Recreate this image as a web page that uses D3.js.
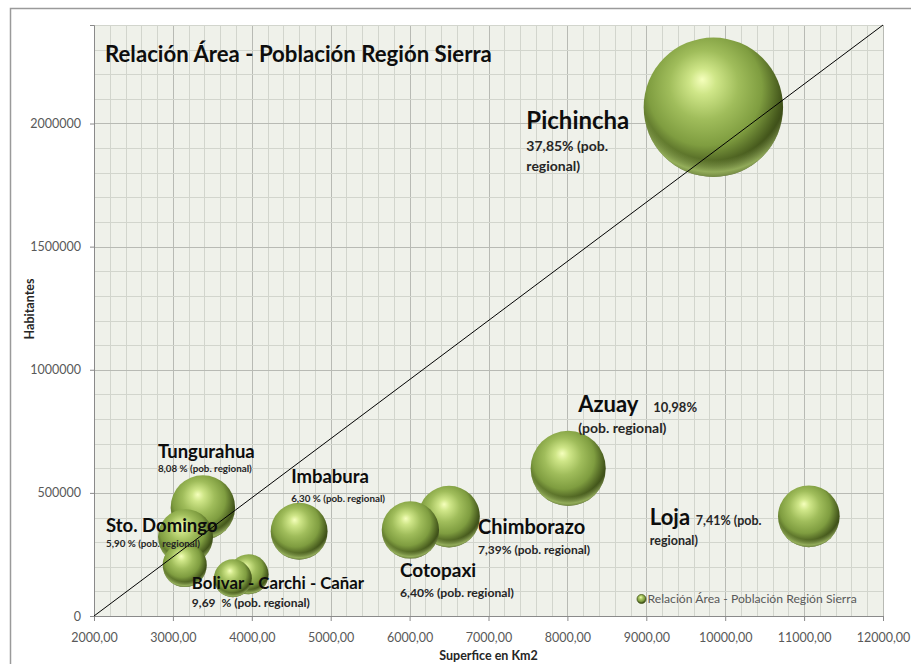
<!DOCTYPE html>
<html>
<head>
<meta charset="utf-8">
<script src="https://cdn.jsdelivr.net/npm/d3@7"></script>
<style>
body { margin: 0; background: #fff; }
svg { font-family: Lato, "Open Sans", sans-serif; }
</style>
</head>
<body>
<script>
// datos: provincias de la sierra, superficie (km2) y habitantes
var provincias = ["Pichincha", "Azuay", "Loja", "Tungurahua", "Sto. Domingo", "Imbabura",
                  "Cotopaxi", "Chimborazo", "Cañar", "Carchi", "Bolívar"];
var superficie = [9850, 8010, 11060, 3380, 3160, 4600, 6010, 6500, 3150, 3760, 3960];
var habitantes = [2066000, 599546, 404835, 441034, 322000, 344044, 349540, 403632, 206981, 152939, 169370];

var xTicks = [2000, 3000, 4000, 5000, 6000, 7000, 8000, 9000, 10000, 11000, 12000];
var yTicks = [0, 500000, 1000000, 1500000, 2000000];

var titulo = "Relación Área - Población Región Sierra";
var serie = "Relación Área - Población Región Sierra";

// rotulos (texto) y bola a la que se anclan
var rotuloTexto = [
  ["Pichincha", "37,85% (pob.", "regional)"],
  ["Azuay", "10,98%", "(pob. regional)"],
  ["Loja", "7,41% (pob.", "regional)"],
  ["Tungurahua", "8,08 % (pob. regional)"],
  ["Sto. Domingo", "5,90 % (pob. regional)"],
  ["Imbabura", "6,30 % (pob. regional)"],
  ["Cotopaxi", "6,40% (pob. regional)"],
  ["Chimborazo", "7,39% (pob. regional)"],
  ["Bolivar - Carchi - Cañar", "9,69  % (pob. regional)"]
];
var rotuloAncla = ["Pichincha", "Azuay", "Loja", "Tungurahua", "Sto. Domingo", "Imbabura",
                   "Cotopaxi", "Chimborazo", "Carchi"];
// desplazamiento de cada linea respecto al centro de la bola: [dx, dy, tamaño]
var rotuloPos = [
  [[-187, 22, 24], [-187, 43.5, 14], [-187, 63.5, 14]],
  [[10, -56.5, 22], [85, -56.5, 13], [10, -35, 14]],
  [[-159, 9, 22], [-113, 9, 12.5], [-159, 29, 12.5]],
  [[-45, -49.5, 18.5], [-45, -35, 9.8]],
  [[-79.5, -4.3, 18.5], [-79.5, 10.7, 9.8]],
  [[-8, -48, 18.5], [-8, -29, 9.8]],
  [[-10.4, 47, 19], [-10.4, 67, 12.2]],
  [[29, 17, 20], [29, 37, 12]],
  [[-41, 10.7, 16.8], [-41, 29, 12]]
];

var W = 911, H = 664;
var svg = d3.select("body").append("svg").attr("width", W).attr("height", H);

var x = d3.scaleLinear().domain([2000, 12000]).range([94, 883]);
var y = d3.scaleLinear().domain([0, 2400000]).range([616, 25]);
var r = d3.scaleSqrt().domain([0, d3.max(habitantes)]).range([0, 69.7]);

var defs = svg.append("defs");
var g1 = defs.append("radialGradient").attr("id", "esfera")
  .attr("cx", 0.45).attr("cy", 0.4).attr("r", 0.62).attr("fx", 0.42).attr("fy", 0.3);
[[0, "#f5ffbc"], [0.15, "#cfe688"], [0.4, "#a0bd5b"], [0.66, "#7f9d40"], [0.87, "#45581c"], [1, "#2b3610"]]
  .forEach(function(s){ g1.append("stop").attr("offset", s[0]).attr("stop-color", s[1]); });
var g2 = defs.append("radialGradient").attr("id", "borde")
  .attr("cx", 0.5).attr("cy", 0.35).attr("r", 0.66);
[[0, "#b9d777", 0], [0.8, "#b9d777", 0], [0.93, "#b9d777", 0.7], [1, "#a8c668", 0.5]]
  .forEach(function(s){ g2.append("stop").attr("offset", s[0]).attr("stop-color", s[1]).attr("stop-opacity", s[2]); });

// marco del grafico
svg.append("rect").attr("x", 10.5).attr("y", 8.5).attr("width", 1000).attr("height", 1000)
  .attr("fill", "#fff").attr("stroke", "#9a9a9a").attr("stroke-width", 1.5);

// area de trazado
svg.append("rect").attr("x", x(2000)).attr("y", y(2400000))
  .attr("width", x(12000) - x(2000)).attr("height", y(0) - y(2400000))
  .attr("fill", "#eff1ea");

var grid = svg.append("g");
grid.selectAll(".vmin").data(d3.range(2000, 12001, 200)).enter().append("line")
  .attr("x1", function(d){ return Math.round(x(d)) + 0.5; })
  .attr("x2", function(d){ return Math.round(x(d)) + 0.5; })
  .attr("y1", y(0)).attr("y2", y(2400000))
  .attr("stroke", function(d){ return d % 1000 === 0 ? "#b8bab4" : "#d2d5cd"; });
grid.selectAll(".hmin").data(d3.range(0, 2400001, 100000)).enter().append("line")
  .attr("y1", function(d){ return Math.round(y(d)) + 0.5; })
  .attr("y2", function(d){ return Math.round(y(d)) + 0.5; })
  .attr("x1", x(2000)).attr("x2", x(12000))
  .attr("stroke", function(d){ return d % 500000 === 0 ? "#b8bab4" : "#d2d5cd"; });

var coma = function(d){ return d3.format(".2f")(d).replace(".", ","); };

var ax = svg.append("g").attr("transform", "translate(0," + y(0) + ")")
  .call(d3.axisBottom(x).tickValues(xTicks).tickFormat(coma).tickSize(5).tickPadding(12));
var ay = svg.append("g").attr("transform", "translate(" + x(2000) + ",0)")
  .call(d3.axisLeft(y).tickValues(yTicks).tickFormat(d3.format("d")).tickSize(4).tickPadding(9));
[ax, ay].forEach(function(a){
  a.select(".domain").attr("stroke", "#8a8a8a");
  a.selectAll(".tick line").attr("stroke", "#8a8a8a");
  a.selectAll("text").attr("fill", "#595959").style("font-size", "12.5px").style("font-family", "Lato, sans-serif");
});

// bolas, de mayor a menor
var idx = d3.range(provincias.length).sort(function(a, b){ return habitantes[b] - habitantes[a]; });
var bolas = svg.append("g").selectAll("g").data(idx).enter().append("g")
  .attr("transform", function(i){ return "translate(" + x(superficie[i]) + "," + y(habitantes[i]) + ")"; });
bolas.append("circle").attr("r", function(i){ return r(habitantes[i]); }).attr("fill", "url(#esfera)");
bolas.append("circle").attr("r", function(i){ return r(habitantes[i]); }).attr("fill", "url(#borde)");

// linea diagonal
svg.append("line")
  .attr("x1", x(2000)).attr("y1", y(0)).attr("x2", x(12000)).attr("y2", y(2400000))
  .attr("stroke", "#000").attr("stroke-width", 1);

// rotulos
rotuloTexto.forEach(function(lineas, k){
  var i = provincias.indexOf(rotuloAncla[k]);
  var cx = x(superficie[i]), cy = y(habitantes[i]);
  lineas.forEach(function(t, j){
    var p = rotuloPos[k][j];
    svg.append("text").attr("x", cx + p[0]).attr("y", cy + p[1])
      .style("font-size", p[2] + "px").style("font-weight", "bold")
      .style("white-space", "pre")
      .attr("fill", j === 0 ? "#0d0d0d" : "#262626")
      .text(t);
  });
});

// titulo
svg.append("text").attr("x", 105).attr("y", 61.7)
  .style("font-size", "22.2px").style("font-weight", "bold").attr("fill", "#0d0d0d").text(titulo);

// titulos de ejes
svg.append("text").attr("x", (x(2000) + x(12000)) / 2).attr("y", 660).attr("text-anchor", "middle")
  .style("font-size", "12.5px").style("font-weight", "bold").attr("fill", "#262626").text("Superfice en Km2");
svg.append("text").attr("transform", "translate(34,309) rotate(-90)").attr("text-anchor", "middle")
  .style("font-size", "12.5px").style("font-weight", "bold").attr("fill", "#262626").text("Habitantes");

// leyenda
var ley = svg.append("g").attr("transform", "translate(641.5,599)");
ley.append("circle").attr("r", 4.5).attr("fill", "url(#esfera)").attr("stroke", "#4a5d1f").attr("stroke-width", 0.8);
ley.append("text").attr("x", 6).attr("y", 4.2).style("font-size", "12.2px").attr("fill", "#595959").text(serie);
</script>
</body>
</html>
